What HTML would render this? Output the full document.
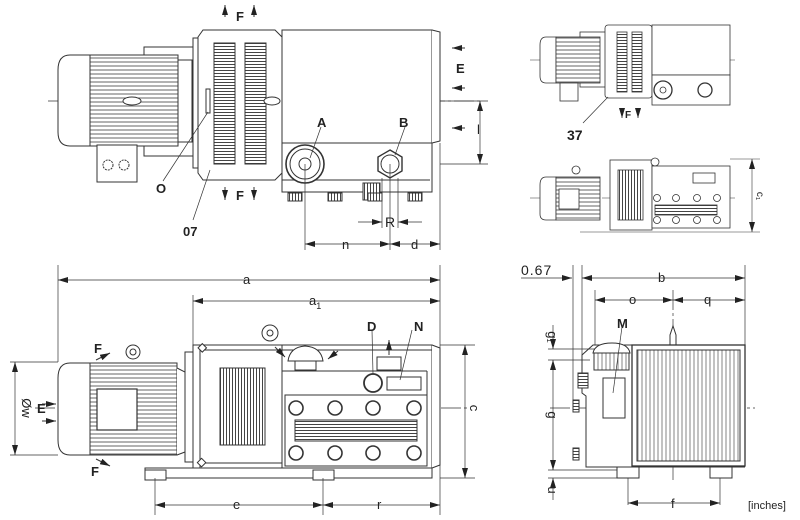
<!DOCTYPE html>
<html><head><meta charset="utf-8"><style>
html,body{margin:0;padding:0;background:#fff;width:800px;height:520px;overflow:hidden}
svg{display:block}
text{font-family:"Liberation Sans",sans-serif;fill:#222}
</style></head><body>
<svg width="800" height="520" viewBox="0 0 800 520" xmlns="http://www.w3.org/2000/svg">
<defs>
<pattern id="hf" width="6" height="4" patternUnits="userSpaceOnUse"><rect width="6" height="4" fill="#fff"/><line x1="0" y1="2" x2="6" y2="2" stroke="#555" stroke-width="0.9"/></pattern>
<pattern id="hf2" width="6" height="3" patternUnits="userSpaceOnUse"><rect width="6" height="3" fill="#fff"/><line x1="0" y1="1.5" x2="6" y2="1.5" stroke="#444" stroke-width="1"/></pattern>
<pattern id="vf" width="3" height="6" patternUnits="userSpaceOnUse"><rect width="3" height="6" fill="#fff"/><line x1="1.5" y1="0" x2="1.5" y2="6" stroke="#444" stroke-width="1"/></pattern>
<pattern id="vf4" width="4" height="6" patternUnits="userSpaceOnUse"><rect width="4" height="6" fill="#fff"/><line x1="2" y1="0" x2="2" y2="6" stroke="#666" stroke-width="0.8"/></pattern>
<marker id="ar" markerWidth="10" markerHeight="6" refX="10" refY="3" orient="auto-start-reverse" markerUnits="userSpaceOnUse"><path d="M0,0 L10,3 L0,6 Z" fill="#222"/></marker>
</defs>
<g fill="none" stroke="#333" stroke-width="1">

<!-- ================= TOP-LEFT VIEW ================= -->
<line x1="48" y1="101" x2="482" y2="101" stroke-dasharray="20,3,3,3" stroke-width="0.7"/>
<rect x="144" y="47" width="52" height="109" fill="#fff"/>
<path d="M90,55 L70,55 Q58,55 58,70 L58,132 Q58,146 70,146 L90,146 Z" fill="#fff"/>
<rect x="90" y="55" width="88" height="91" fill="url(#hf)"/>
<rect x="178" y="60" width="14" height="82" fill="#fff"/>
<rect x="97" y="145" width="40" height="37" fill="#fff"/>
<circle cx="108" cy="165" r="5" stroke-dasharray="2,1"/><circle cx="124" cy="165" r="5" stroke-dasharray="2,1"/>
<ellipse cx="132" cy="101" rx="9" ry="4" fill="#fff"/>
<rect x="193" y="38" width="8" height="130" fill="#fff"/>
<path d="M203,30 L275,30 L282,37 L282,173 L275,180 L203,180 L198,173 L198,37 Z" fill="#fff"/>
<rect x="214" y="43" width="21" height="121" fill="url(#hf2)"/>
<rect x="245" y="43" width="21" height="121" fill="url(#hf2)"/>
<rect x="206" y="89" width="4" height="24" fill="#fff"/>
<ellipse cx="272" cy="101" rx="8" ry="4" fill="#fff"/>
<rect x="282" y="30" width="150" height="113" fill="#fff"/>
<path d="M432,30 L440,32 L440,141 L432,143" fill="#fff"/>
<rect x="282" y="143" width="150" height="49" fill="#fff"/>
<line x1="282" y1="180" x2="430" y2="180"/>
<circle cx="305" cy="164" r="19" fill="#fff" stroke-width="1.6"/><circle cx="305" cy="164" r="15"/><circle cx="305" cy="164" r="6"/>
<polygon points="390,150 402,157 402,171 390,178 378,171 378,157" fill="#fff" stroke-width="1.4"/><circle cx="390" cy="164" r="9"/>
<rect x="363" y="183" width="17" height="17" fill="url(#vf)"/>
<rect x="288" y="193" width="14" height="8" fill="url(#vf)"/><rect x="328" y="193" width="14" height="8" fill="url(#vf)"/><rect x="368" y="193" width="14" height="8" fill="url(#vf)"/><rect x="408" y="193" width="14" height="8" fill="url(#vf)"/>
<line x1="440" y1="101" x2="488" y2="101" stroke-width="0.7"/><line x1="440" y1="164" x2="488" y2="164" stroke-width="0.7"/>
<line x1="480" y1="101" x2="480" y2="164" stroke-width="0.7" marker-start="url(#ar)" marker-end="url(#ar)"/>
<line x1="465" y1="48" x2="452" y2="48" marker-end="url(#ar)"/><line x1="465" y1="88" x2="452" y2="88" marker-end="url(#ar)"/><line x1="465" y1="128" x2="452" y2="128" marker-end="url(#ar)"/>
<line x1="225" y1="17" x2="225" y2="5" marker-end="url(#ar)"/><line x1="254" y1="17" x2="254" y2="5" marker-end="url(#ar)"/>
<line x1="225" y1="187" x2="225" y2="200" marker-end="url(#ar)"/><line x1="254" y1="187" x2="254" y2="200" marker-end="url(#ar)"/>
<line x1="208" y1="112" x2="163" y2="181" stroke-width="0.7"/>
<line x1="210" y1="170" x2="193" y2="220" stroke-width="0.7"/>
<line x1="321" y1="127" x2="310" y2="158" stroke-width="0.7"/>
<line x1="405" y1="127" x2="395" y2="155" stroke-width="0.7"/>
<line x1="305" y1="164" x2="305" y2="250" stroke-width="0.7"/><line x1="390" y1="164" x2="390" y2="250" stroke-width="0.7"/><line x1="440" y1="143" x2="440" y2="250" stroke-width="0.7"/>
<line x1="382" y1="178" x2="382" y2="228" stroke-width="0.7"/><line x1="398" y1="178" x2="398" y2="228" stroke-width="0.7"/>
<line x1="305" y1="244" x2="390" y2="244" stroke-width="0.7" marker-start="url(#ar)" marker-end="url(#ar)"/>
<line x1="390" y1="244" x2="440" y2="244" stroke-width="0.7" marker-start="url(#ar)" marker-end="url(#ar)"/>
<line x1="358" y1="222" x2="382" y2="222" stroke-width="0.7" marker-end="url(#ar)"/><line x1="422" y1="222" x2="398" y2="222" stroke-width="0.7" marker-end="url(#ar)"/>

<!-- ================= BOTTOM-LEFT VIEW ================= -->
<line x1="58" y1="265" x2="58" y2="362" stroke-width="0.7"/><line x1="440" y1="265" x2="440" y2="515" stroke-width="0.7"/><line x1="193" y1="295" x2="193" y2="345" stroke-width="0.7"/>
<line x1="58" y1="280" x2="440" y2="280" stroke-width="0.7" marker-start="url(#ar)" marker-end="url(#ar)"/>
<line x1="193" y1="301" x2="440" y2="301" stroke-width="0.7" marker-start="url(#ar)" marker-end="url(#ar)"/>
<line x1="35" y1="408" x2="470" y2="408" stroke-dasharray="20,3,3,3" stroke-width="0.7"/>
<path d="M90,363 L70,363 Q58,363 58,378 L58,440 Q58,455 70,455 L90,455 Z" fill="#fff"/>
<rect x="90" y="363" width="87" height="92" fill="url(#hf)"/>
<rect x="97" y="389" width="40" height="41" fill="#fff" stroke-width="1.2"/>
<path d="M177,368 L185,372 L185,452 L177,455" fill="#fff"/>
<rect x="185" y="352" width="8" height="110" fill="#fff"/>
<circle cx="133" cy="352" r="7" fill="#fff"/><circle cx="133" cy="352" r="3"/>
<line x1="10" y1="362" x2="58" y2="362" stroke-width="0.7"/><line x1="10" y1="455" x2="58" y2="455" stroke-width="0.7"/>
<line x1="15" y1="362" x2="15" y2="455" stroke-width="0.7" marker-start="url(#ar)" marker-end="url(#ar)"/>
<line x1="42" y1="404" x2="56" y2="404" marker-end="url(#ar)"/><line x1="42" y1="421" x2="56" y2="421" marker-end="url(#ar)"/>
<line x1="96" y1="360" x2="110" y2="353" marker-end="url(#ar)"/><line x1="96" y1="459" x2="110" y2="466" marker-end="url(#ar)"/>
<rect x="145" y="468" width="287" height="10" fill="#fff"/>
<rect x="145" y="470" width="21" height="10" fill="#fff"/><rect x="313" y="470" width="21" height="10" fill="#fff"/>
<rect x="193" y="345" width="239" height="123" fill="#fff"/>
<line x1="200" y1="345" x2="200" y2="468"/><line x1="282" y1="345" x2="282" y2="468"/>
<line x1="200" y1="350" x2="432" y2="350"/><line x1="200" y1="463" x2="282" y2="463"/>
<path d="M432,345 L440,348 L440,465 L432,468" fill="#fff"/>
<rect x="220" y="368" width="45" height="77" fill="url(#vf)"/>
<rect x="198" y="346" width="6" height="6" transform="rotate(45 203 350)" fill="#fff"/><rect x="198" y="461" width="6" height="6" transform="rotate(45 203 464)" fill="#fff"/>
<circle cx="270" cy="333" r="8" fill="#fff"/><circle cx="270" cy="333" r="3"/>
<path d="M288,361 Q290,347 305,346 Q321,347 323,361 Z" fill="#fff"/><rect x="295" y="361" width="21" height="9" fill="#fff"/>
<line x1="275" y1="347" x2="285" y2="357" marker-end="url(#ar)"/><line x1="338" y1="351" x2="328" y2="359" marker-end="url(#ar)"/>
<line x1="389" y1="355" x2="389" y2="340" marker-end="url(#ar)"/>
<rect x="377" y="357" width="24" height="13" fill="#fff"/>
<line x1="282" y1="371" x2="427" y2="371"/><line x1="427" y1="371" x2="427" y2="466"/>
<rect x="285" y="395" width="142" height="71" fill="#fff"/>
<circle cx="373" cy="383" r="9" fill="#fff" stroke-width="1.8"/>
<rect x="387" y="377" width="34" height="13" fill="#fff"/>
<g fill="#fff" stroke-width="1.6"><circle cx="296" cy="408" r="7"/><circle cx="335" cy="408" r="7"/><circle cx="373" cy="408" r="7"/><circle cx="414" cy="408" r="7"/><circle cx="296" cy="453" r="7"/><circle cx="335" cy="453" r="7"/><circle cx="373" cy="453" r="7"/><circle cx="414" cy="453" r="7"/></g>
<rect x="295" y="420" width="122" height="21" fill="url(#hf2)"/>
<line x1="372" y1="330" x2="373" y2="374" stroke-width="0.7"/><line x1="412" y1="330" x2="400" y2="380" stroke-width="0.7"/>
<line x1="440" y1="345" x2="475" y2="345" stroke-width="0.7"/><line x1="440" y1="478" x2="475" y2="478" stroke-width="0.7"/>
<line x1="465" y1="345" x2="465" y2="478" stroke-width="0.7" marker-start="url(#ar)" marker-end="url(#ar)"/>
<line x1="155" y1="478" x2="155" y2="515" stroke-width="0.7"/><line x1="323" y1="478" x2="323" y2="515" stroke-width="0.7"/>
<line x1="155" y1="505" x2="323" y2="505" stroke-width="0.7" marker-start="url(#ar)" marker-end="url(#ar)"/>
<line x1="323" y1="505" x2="440" y2="505" stroke-width="0.7" marker-start="url(#ar)" marker-end="url(#ar)"/>

<!-- ================= TOP-RIGHT VIEW ================= -->
<g stroke-width="0.8">
<line x1="530" y1="60" x2="735" y2="60" stroke-dasharray="15,3,3,3" stroke-width="0.6"/>
<rect x="580" y="32" width="30" height="55" fill="#fff"/>
<path d="M556,37 L546,37 Q540,37 540,45 L540,76 Q540,83 546,83 L556,83 Z" fill="#fff"/>
<rect x="556" y="37" width="44" height="46" fill="url(#hf)"/>
<rect x="560" y="83" width="18" height="18" fill="#fff"/>
<rect x="605" y="25" width="47" height="73" rx="3" fill="#fff"/>
<rect x="617" y="32" width="10" height="60" fill="url(#hf2)"/><rect x="632" y="32" width="10" height="60" fill="url(#hf2)"/>
<rect x="652" y="25" width="78" height="50" fill="#fff"/>
<rect x="652" y="75" width="78" height="30" fill="#fff"/>
<circle cx="663" cy="90" r="9" fill="#fff" stroke-width="1.3"/><circle cx="663" cy="90" r="3"/>
<circle cx="705" cy="90" r="7" fill="#fff" stroke-width="1.3"/>
<line x1="608" y1="97" x2="583" y2="123" stroke-width="0.7"/>
<line x1="622" y1="110" x2="622" y2="118" marker-end="url(#ar)"/><line x1="638" y1="110" x2="638" y2="118" marker-end="url(#ar)"/>

<line x1="530" y1="198" x2="735" y2="198" stroke-dasharray="15,3,3,3" stroke-width="0.6"/>
<path d="M556,177 L546,177 Q540,177 540,185 L540,214 Q540,220 546,220 L556,220 Z" fill="#fff"/>
<rect x="556" y="177" width="44" height="43" fill="url(#hf)"/>
<rect x="559" y="189" width="20" height="20" fill="#fff"/>
<circle cx="576" cy="170" r="4" fill="#fff"/>
<rect x="610" y="160" width="42" height="70" fill="#fff"/>
<rect x="618" y="170" width="25" height="50" fill="url(#vf)"/>
<circle cx="655" cy="162" r="4" fill="#fff"/>
<rect x="652" y="166" width="78" height="62" fill="#fff"/>
<rect x="655" y="205" width="62" height="10" fill="url(#hf2)"/>
<g fill="#fff"><circle cx="657" cy="198" r="3.5"/><circle cx="676" cy="198" r="3.5"/><circle cx="697" cy="198" r="3.5"/><circle cx="717" cy="198" r="3.5"/><circle cx="657" cy="220" r="3.5"/><circle cx="676" cy="220" r="3.5"/><circle cx="697" cy="220" r="3.5"/><circle cx="717" cy="220" r="3.5"/></g>
<rect x="693" y="173" width="22" height="10" fill="#fff"/>
<line x1="580" y1="232" x2="760" y2="232" stroke-width="0.6"/><line x1="730" y1="159" x2="760" y2="159" stroke-width="0.6"/>
<line x1="752" y1="159" x2="752" y2="232" stroke-width="0.6" marker-start="url(#ar)" marker-end="url(#ar)"/>
</g>

<!-- ================= BOTTOM-RIGHT VIEW ================= -->
<line x1="550" y1="408" x2="755" y2="408" stroke-dasharray="20,3,3,3" stroke-width="0.7"/>
<line x1="673" y1="290" x2="673" y2="480" stroke-dasharray="20,3,3,3" stroke-width="0.7"/>
<line x1="573" y1="265" x2="573" y2="400" stroke-width="0.7"/><line x1="582" y1="265" x2="582" y2="360" stroke-width="0.7"/>
<line x1="595" y1="290" x2="595" y2="345" stroke-width="0.7"/><line x1="745" y1="265" x2="745" y2="345" stroke-width="0.7"/>
<line x1="521" y1="278" x2="572" y2="278" stroke-width="0.7" marker-end="url(#ar)"/>
<line x1="582" y1="278" x2="745" y2="278" stroke-width="0.7" marker-start="url(#ar)" marker-end="url(#ar)"/>
<line x1="595" y1="300" x2="673" y2="300" stroke-width="0.7" marker-start="url(#ar)" marker-end="url(#ar)"/>
<line x1="673" y1="300" x2="745" y2="300" stroke-width="0.7" marker-start="url(#ar)" marker-end="url(#ar)"/>
<path d="M670,345 L670,335 L673,326 L676,335 L676,345" fill="#fff"/>
<path d="M586,467 L586,396 L582,393 L582,355 L593,345 L632,345 L632,467 Z" fill="#fff"/>
<path d="M593,353 Q595,343 612,343 Q628,343 630,353 Z" fill="#fff"/><rect x="594" y="353" width="35" height="17" fill="url(#vf4)"/>
<rect x="603" y="378" width="22" height="40" fill="#fff"/>
<rect x="578" y="373" width="10" height="15" fill="url(#hf2)"/><rect x="573" y="400" width="6" height="12" fill="url(#hf2)"/><rect x="573" y="448" width="6" height="12" fill="url(#hf2)"/>
<rect x="632" y="345" width="113" height="121" fill="#fff" stroke-width="1.3"/>
<rect x="637" y="350" width="103" height="111" fill="url(#vf4)"/>
<line x1="586" y1="467" x2="745" y2="467"/>
<rect x="617" y="467" width="22" height="11" fill="#fff"/><rect x="710" y="467" width="22" height="11" fill="#fff"/>
<line x1="622" y1="327" x2="613" y2="393" stroke-width="0.7"/>
<line x1="548" y1="349" x2="595" y2="349" stroke-width="0.7"/><line x1="548" y1="360" x2="590" y2="360" stroke-width="0.7"/><line x1="548" y1="470" x2="617" y2="470" stroke-width="0.7"/><line x1="548" y1="478" x2="617" y2="478" stroke-width="0.7"/>
<line x1="553" y1="325" x2="553" y2="349" stroke-width="0.7" marker-end="url(#ar)"/>
<line x1="553" y1="360" x2="553" y2="470" stroke-width="0.7" marker-start="url(#ar)" marker-end="url(#ar)"/>
<line x1="553" y1="500" x2="553" y2="478" stroke-width="0.7" marker-end="url(#ar)"/>
<line x1="628" y1="478" x2="628" y2="505" stroke-width="0.7"/><line x1="720" y1="478" x2="720" y2="505" stroke-width="0.7"/>
<line x1="628" y1="503" x2="720" y2="503" stroke-width="0.7" marker-start="url(#ar)" marker-end="url(#ar)"/>
</g>

<!-- ================= LABELS ================= -->
<g font-size="13" font-weight="bold">
<text x="236" y="21">F</text><text x="236" y="200">F</text>
<text x="456" y="73">E</text>
<text x="317" y="127">A</text><text x="399" y="127">B</text>
<text x="156" y="193">O</text><text x="183" y="236">07</text>
<text x="94" y="353">F</text><text x="91" y="476">F</text><text x="37" y="413">E</text>
<text x="367" y="331">D</text><text x="414" y="331">N</text>
<text x="567" y="140" font-size="14">37</text><text x="625" y="118" font-size="10">F</text>
<text x="617" y="328">M</text>
</g>
<g font-size="13" fill="#222">
<text x="477" y="134">l</text>
<text x="385" y="227" font-size="14">R</text>
<text x="342" y="249">n</text><text x="411" y="249">d</text>
<text x="243" y="284">a</text><text x="309" y="305">a<tspan font-size="9" dy="4">1</tspan></text>
<text x="233" y="509">e</text><text x="377" y="509">r</text>
<text x="474" y="412" transform="rotate(90 474 408)" text-anchor="middle">c</text>
<text x="22" y="408" transform="rotate(90 22 408)" text-anchor="middle">Øw</text>
<text x="757" y="196" font-size="10" transform="rotate(90 757 196)" text-anchor="middle">c₁</text>
<text x="521" y="275" font-family="Liberation Mono" font-size="14" letter-spacing="1">0.67</text>
<text x="658" y="282">b</text><text x="629" y="304">o</text><text x="704" y="304">q</text>
<text x="671" y="508">f</text>
<text x="548" y="337" transform="rotate(90 548 337)" text-anchor="middle">g₁</text>
<text x="548" y="415" transform="rotate(90 548 415)" text-anchor="middle">g</text>
<text x="548" y="490" transform="rotate(90 548 490)" text-anchor="middle">u</text>
<text x="748" y="509" font-size="11">[inches]</text>
</g>
</svg>
</body></html>
